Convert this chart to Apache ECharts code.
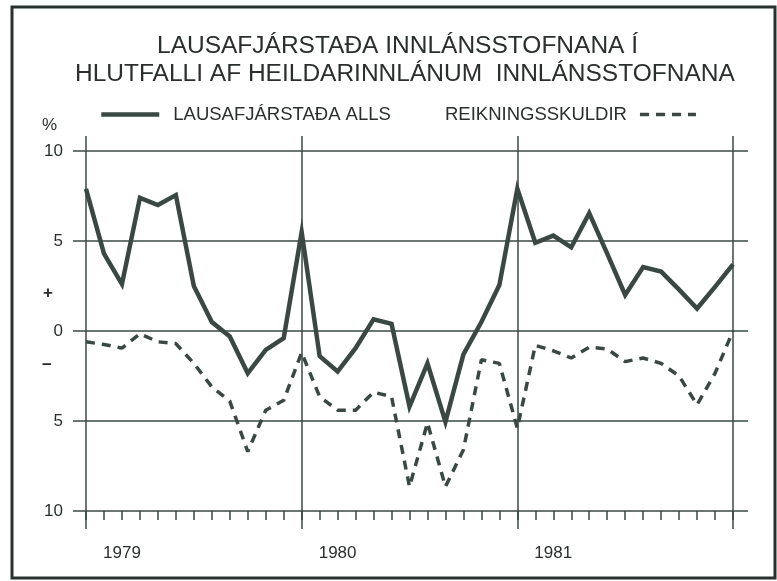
<!DOCTYPE html>
<html>
<head>
<meta charset="utf-8">
<script src="https://cdn.jsdelivr.net/npm/echarts@6/dist/echarts.min.js"></script>
<style>html,body{margin:0;padding:0;background:#fff}#c{width:777px;height:581px}</style>
</head>
<body>
<div id="c"></div>
<script>
const titleLines = ['LAUSAFJÁRSTAÐA INNLÁNSSTOFNANA Í', 'HLUTFALLI AF HEILDARINNLÁNUM  INNLÁNSSTOFNANA'];
const seriesNames = ['LAUSAFJÁRSTAÐA ALLS', 'REIKNINGSSKULDIR'];
const years = ['1979', '1980', '1981'];
const months = [
  '1979-01','1979-02','1979-03','1979-04','1979-05','1979-06','1979-07','1979-08','1979-09','1979-10','1979-11','1979-12',
  '1980-01','1980-02','1980-03','1980-04','1980-05','1980-06','1980-07','1980-08','1980-09','1980-10','1980-11','1980-12',
  '1981-01','1981-02','1981-03','1981-04','1981-05','1981-06','1981-07','1981-08','1981-09','1981-10','1981-11','1981-12',
  '1982-01'
];
const lausafjarstada = [
  7.9, 4.3, 2.6, 7.4, 7.0, 7.55, 2.5, 0.5, -0.3, -2.35, -1.05, -0.4,
  5.5, -1.4, -2.25, -0.95, 0.65, 0.4, -4.2, -1.8, -5.05, -1.3, 0.5, 2.55,
  7.9, 4.9, 5.3, 4.65, 6.55, 4.3, 2.0, 3.55, 3.3, 2.3, 1.25, 2.45, 3.7
];
const reikningsskuldir = [
  -0.6, -0.75, -0.95, -0.15, -0.6, -0.7, -1.8, -3.1, -3.9, -6.7, -4.4, -3.85,
  -1.2, -3.65, -4.4, -4.4, -3.4, -3.65, -8.65, -5.1, -8.65, -6.6, -1.6, -1.8,
  -5.4, -0.8, -1.1, -1.5, -0.9, -1.0, -1.7, -1.5, -1.8, -2.5, -4.1, -2.35, 0.0
];
const yTickValues = [-10, -5, 0, 5, 10];
const yTickLabels = ['10', '5', '0', '5', '10'];
const yearLabelIndex = [2, 14, 26];

const ink = '#3a4843';
const txt = '#2a2f2d';
const font = '"Liberation Sans", Arial, sans-serif';
const hidden = {color: 'rgba(0,0,0,0)', borderColor: 'rgba(0,0,0,0)', borderWidth: 0};

const chart = echarts.init(document.getElementById('c'), null, {renderer: 'canvas'});
chart.setOption({
  backgroundColor: '#ffffff',
  animation: false,
  textStyle: {fontFamily: font, color: txt},
  title: [
    {text: titleLines[0], left: 157, top: 34, padding: 0,
     textStyle: {fontFamily: font, fontSize: 24.5, fontWeight: 'normal', color: txt}},
    {text: titleLines[1], left: 75, top: 62, padding: 0,
     textStyle: {fontFamily: font, fontSize: 24.5, fontWeight: 'normal', color: txt}}
  ],
  legend: [
    {
      data: [seriesNames[0]], left: 94, top: 100, itemWidth: 58, itemHeight: 12, itemGap: 14,
      itemStyle: hidden, lineStyle: {color: ink, width: 4.5},
      textStyle: {fontFamily: font, fontSize: 18.5, color: txt, padding: [0, 0, 0, 9]}
    },
    {
      data: [seriesNames[1]], left: 440, top: 100, itemWidth: 56, itemHeight: 12, align: 'right',
      itemStyle: hidden, lineStyle: {color: ink, width: 3.5, type: [9, 7]},
      textStyle: {fontFamily: font, fontSize: 18.5, color: txt, padding: [0, 8, 0, 0]}
    }
  ],
  grid: [
    {left: 73, right: 29, top: 151, bottom: 70},
    {left: 86, right: 44, top: 151, bottom: 70},
    {left: 86, right: 44, top: 136, bottom: 52}
  ],
  xAxis: [
    {gridIndex: 0, type: 'value', min: 0, max: 1, show: false},
    {
      gridIndex: 1, type: 'category', data: months, boundaryGap: false, position: 'bottom',
      axisLine: {show: false, onZero: false},
      axisTick: {show: true, interval: 0, length: 9, lineStyle: {color: ink, width: 1.5}},
      axisLabel: {
        interval: 0, margin: 34, fontFamily: font, fontSize: 17, color: txt,
        formatter: function (v, i) { const k = yearLabelIndex.indexOf(i); return k >= 0 ? years[k] : ''; }
      },
      splitLine: {show: false}
    },
    {
      gridIndex: 2, type: 'value', min: 0, max: 36, interval: 12,
      axisLine: {show: false}, axisTick: {show: false}, axisLabel: {show: false},
      splitLine: {show: true, lineStyle: {color: ink, width: 1.5}}
    }
  ],
  yAxis: [
    {
      gridIndex: 0, type: 'value', min: -10, max: 10, interval: 5,
      axisLine: {show: false}, axisTick: {show: false},
      axisLabel: {
        margin: 10, fontFamily: font, fontSize: 17, color: txt,
        formatter: function (v) { const k = yTickValues.indexOf(v); return k >= 0 ? yTickLabels[k] : ''; }
      },
      splitLine: {show: true, lineStyle: {color: ink, width: 1.5}}
    },
    {gridIndex: 1, type: 'value', min: -10, max: 10, show: false, splitLine: {show: false}},
    {gridIndex: 2, type: 'value', min: 0, max: 1, show: false, splitLine: {show: false}}
  ],
  series: [
    {
      name: seriesNames[0], type: 'line', xAxisIndex: 1, yAxisIndex: 1,
      data: lausafjarstada, symbol: 'none', showSymbol: false,
      lineStyle: {color: ink, width: 4.5, join: 'miter'}, itemStyle: {color: ink}
    },
    {
      name: seriesNames[1], type: 'line', xAxisIndex: 1, yAxisIndex: 1,
      data: reikningsskuldir, symbol: 'none', showSymbol: false,
      lineStyle: {color: ink, width: 3.5, type: [9, 7]}, itemStyle: {color: ink}
    }
  ],
  graphic: [
    {type: 'rect', shape: {x: 12, y: 7, width: 763, height: 571}, style: {fill: 'none', stroke: '#27322e', lineWidth: 3}, silent: true},
    {type: 'text', left: 42, top: 117, style: {text: '%', font: '17px ' + font, fill: txt}},
    {type: 'text', left: 43, top: 285, style: {text: '+', font: 'bold 17px ' + font, fill: txt}},
    {type: 'text', left: 42, top: 357, style: {text: '−', font: 'bold 17px ' + font, fill: txt}}
  ]
});
</script>
</body>
</html>
